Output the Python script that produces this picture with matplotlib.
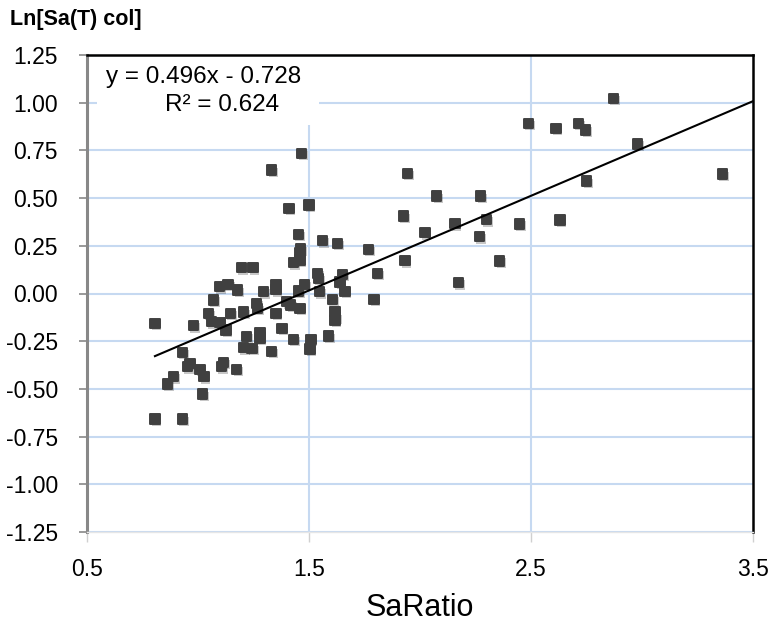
import matplotlib
matplotlib.use("Agg")
import matplotlib.pyplot as plt
import matplotlib.patheffects as pe
from matplotlib.patches import Rectangle
import numpy as np

plt.rcParams['font.family'] = ['Liberation Sans', 'DejaVu Sans']

sa_ratio = [1.467, 1.332, 1.410, 1.500, 1.452, 1.462, 1.459, 1.560, 1.429, 1.459,
            1.195, 1.247, 1.537, 1.542, 1.096, 1.136, 1.179, 1.294, 1.351, 1.351,
            1.481, 1.452, 1.546, 1.605, 1.069, 1.264, 1.267, 1.399, 1.417, 1.459,
            1.046, 1.146, 1.204, 1.351, 0.806, 0.979, 1.061, 1.099, 1.126, 1.219,
            1.279, 1.279, 1.378, 1.429, 1.509, 1.588, 1.943, 2.075, 2.273, 1.925,
            2.157, 2.299, 2.023, 2.267, 1.628, 1.767, 1.932, 2.359, 1.650, 1.640,
            1.808, 2.173, 1.662, 1.793, 1.617, 1.620, 1.617, 1.332, 1.505, 2.871,
            2.488, 2.613, 2.714, 2.746, 2.979, 3.362, 2.751, 2.447, 2.630, 1.204,
            1.244, 0.929, 0.964, 0.952, 1.009, 1.027, 1.114, 1.106, 1.174, 0.889,
            0.862, 1.021, 0.806, 0.929]
ln_sa_col = [0.735, 0.647, 0.447, 0.464, 0.310, 0.233, 0.215, 0.277, 0.162, 0.175,
             0.135, 0.135, 0.104, 0.080, 0.036, 0.048, 0.018, 0.009, 0.048, 0.020,
             0.048, 0.013, 0.009, -0.032, -0.033, -0.051, -0.078, -0.043, -0.060, -0.078,
             -0.104, -0.104, -0.097, -0.104, -0.156, -0.169, -0.148, -0.153, -0.191, -0.224,
             -0.208, -0.234, -0.182, -0.240, -0.240, -0.223, 0.630, 0.511, 0.511, 0.406,
             0.366, 0.387, 0.319, 0.298, 0.263, 0.232, 0.172, 0.171, 0.101, 0.060,
             0.106, 0.057, 0.011, -0.030, -0.095, -0.125, -0.140, -0.303, -0.290, 1.023,
             0.892, 0.866, 0.892, 0.857, 0.784, 0.626, 0.589, 0.365, 0.385, -0.284,
             -0.287, -0.308, -0.366, -0.383, -0.397, -0.436, -0.361, -0.383, -0.397, -0.436,
             -0.474, -0.527, -0.658, -0.658]

slope = 0.496
intercept = -0.728
r2 = 0.624

x_ticks = [0.5, 1.5, 2.5, 3.5]
x_tick_labels = ["0.5", "1.5", "2.5", "3.5"]
y_ticks = [1.25, 1.00, 0.75, 0.50, 0.25, 0.00, -0.25, -0.50, -0.75, -1.00, -1.25]
y_tick_labels = ["1.25", "1.00", "0.75", "0.50", "0.25", "0.00", "-0.25", "-0.50",
                 "-0.75", "-1.00", "-1.25"]

fig = plt.figure(figsize=(7.72, 6.23), dpi=100)
ax = fig.add_axes([87/772, 1-532/623, (753-87)/772, (532-55)/623])
ax.set_xlim(0.5, 3.5)
ax.set_ylim(-1.25, 1.25)

grid_c = '#c6d9f1'
for yv in y_ticks:
    ax.axhline(yv, color=grid_c, lw=1.5, zorder=0)
for xv in x_ticks[1:-1]:
    ax.axvline(xv, color=grid_c, lw=1.5, zorder=0)

# white label box covering gridlines
ax.add_patch(Rectangle((0.545, 0.885), 1.0, 0.365, facecolor='white',
                       edgecolor='none', zorder=1))

sc = ax.scatter(sa_ratio, ln_sa_col, marker='s', s=46, c='#404040',
                edgecolors='#404040', linewidths=1.4, zorder=3)
sc.set_joinstyle('round')
sc.set_path_effects([pe.SimplePatchShadow(offset=(1.2, -1.6), shadow_rgbFace='#000000',
                                          alpha=0.22), pe.Normal()])

xmin = min(sa_ratio)
xl = np.array([xmin, 3.5])
ax.plot(xl, slope*xl + intercept, color='black', lw=1.5, zorder=4)

ax.set_xticks(x_ticks)
ax.set_xticklabels(x_tick_labels)
ax.set_yticks(y_ticks)
ax.set_yticklabels(y_tick_labels)
ax.tick_params(axis='both', labelsize=16.5, colors='#888888', labelcolor='black')
ax.tick_params(axis='y', direction='out', length=6, width=1.2, pad=15)
ax.tick_params(axis='x', direction='out', length=7, width=1.0, pad=12, colors='#d0d0d0',
               labelcolor='black')

for s in ['top', 'right']:
    ax.spines[s].set_color('black')
    ax.spines[s].set_linewidth(1.8)
ax.spines['left'].set_color('#888888')
ax.spines['left'].set_linewidth(2.2)
ax.spines['bottom'].set_color('#e6e6e6')
ax.spines['bottom'].set_linewidth(1.0)

ax.set_xlabel("SaRatio", fontsize=22, labelpad=8)

fig.text(10/772, 1-19/623, "Ln[Sa(T) col]", fontsize=15.5, fontweight='bold',
         ha='left', va='center')

ax.text(0.586, 1.135, f"y = {slope:.3f}x - {abs(intercept):.3f}", fontsize=17.5,
        ha='left', va='center', zorder=5)
ax.text(0.851, 0.99, f"R² = {r2:.3f}", fontsize=17.5, ha='left', va='center', zorder=5)

fig.savefig("out.png", dpi=100)
